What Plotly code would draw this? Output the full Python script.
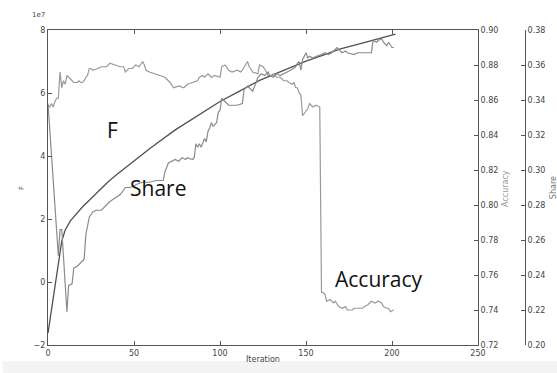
import plotly.graph_objects as go

# ---- data ---------------------------------------------------------------
f_iter = [0, 8, 10, 13, 20, 30, 35, 40, 50, 60, 74, 80, 90, 100, 110, 123,
          130, 140, 150, 160, 170, 180, 190, 200, 202]
f_vals = [-1.62e7, 1.30e7, 1.65e7, 1.94e7, 2.38e7, 2.92e7, 3.18e7, 3.41e7,
          3.85e7, 4.27e7, 4.83e7, 5.04e7, 5.38e7, 5.73e7, 6.02e7, 6.40e7,
          6.56e7, 6.79e7, 7.01e7, 7.20e7, 7.40e7, 7.54e7, 7.69e7, 7.84e7, 7.87e7]

acc_iter = [0, 1, 2, 3, 4, 5, 6, 7, 8, 9, 10, 11, 12, 13, 15, 17, 18, 19, 20,
            21, 22, 23, 24, 25, 26, 29, 31, 34, 36, 39, 42, 44, 45, 47, 49, 51,
            53, 55, 56, 57, 59, 62, 65, 68, 71, 73, 76, 79, 81, 84, 87, 88, 90,
            91, 93, 95, 97, 100, 101, 103, 105, 107, 110, 112, 113, 116, 117,
            119, 122, 123, 125, 127, 128, 130, 131, 133, 135, 137, 139, 140,
            142, 143, 144, 145, 146, 147, 148, 151, 152, 154, 156, 158, 159,
            160, 161, 162, 164, 166, 167, 169, 171, 173, 174, 177, 178, 180,
            183, 184, 186, 188, 190, 192, 194, 195, 197, 198, 199, 201]
acc_vals = [0.857, 0.856, 0.858, 0.856, 0.859, 0.861, 0.861, 0.876, 0.867,
            0.871, 0.869, 0.874, 0.873, 0.872, 0.870, 0.870, 0.871, 0.870,
            0.870, 0.871, 0.873, 0.874, 0.878, 0.878, 0.877, 0.878, 0.879,
            0.879, 0.881, 0.880, 0.879, 0.879, 0.876, 0.878, 0.878, 0.880,
            0.879, 0.882, 0.880, 0.877, 0.876, 0.875, 0.874, 0.873, 0.870,
            0.867, 0.868, 0.867, 0.869, 0.870, 0.871, 0.873, 0.874, 0.873,
            0.875, 0.873, 0.874, 0.873, 0.879, 0.880, 0.877, 0.876, 0.877,
            0.876, 0.877, 0.882, 0.879, 0.876, 0.875, 0.880, 0.879, 0.876,
            0.874, 0.874, 0.875, 0.873, 0.873, 0.871, 0.871, 0.870, 0.869,
            0.870, 0.867, 0.867, 0.864, 0.863, 0.851, 0.855, 0.858, 0.856,
            0.857, 0.856, 0.750, 0.750, 0.749, 0.745, 0.746, 0.744, 0.745,
            0.742, 0.741, 0.742, 0.740, 0.740, 0.741, 0.741, 0.741, 0.742,
            0.743, 0.745, 0.744, 0.745, 0.744, 0.742, 0.741, 0.741, 0.739,
            0.740]

share_iter = [0, 6, 7, 8, 11, 12, 14, 15, 17, 19, 21, 22, 24, 26, 28, 31, 33,
              36, 39, 42, 45, 48, 52, 55, 59, 63, 67, 68, 70, 72, 74, 76, 78,
              80, 81, 84, 85, 86, 87, 88, 89, 91, 92, 93, 94, 95, 96, 98, 99,
              100, 101, 103, 105, 107, 110, 113, 114, 116, 117, 119, 121, 122,
              124, 126, 128, 129, 131, 133, 135, 137, 139, 141, 144, 145, 146,
              147, 148, 149, 150, 151, 152, 154, 156, 159, 161, 163, 165, 168,
              171, 173, 174, 178, 180, 184, 188, 189, 191, 192, 194, 195, 197,
              198, 200, 201]
share_vals = [0.338, 0.251, 0.266, 0.266, 0.219, 0.234, 0.235, 0.244, 0.245,
              0.247, 0.249, 0.263, 0.273, 0.276, 0.277, 0.277, 0.279, 0.282,
              0.284, 0.286, 0.290, 0.290, 0.292, 0.293, 0.293, 0.294, 0.294,
              0.299, 0.304, 0.305, 0.306, 0.305, 0.307, 0.306, 0.307, 0.306,
              0.307, 0.315, 0.313, 0.315, 0.313, 0.318, 0.316, 0.322, 0.324,
              0.327, 0.325, 0.327, 0.333, 0.334, 0.341, 0.339, 0.337, 0.337,
              0.337, 0.338, 0.346, 0.348, 0.347, 0.345, 0.350, 0.353, 0.355,
              0.354, 0.356, 0.354, 0.353, 0.355, 0.354, 0.355, 0.356, 0.357,
              0.359, 0.361, 0.362, 0.357, 0.363, 0.365, 0.367, 0.364, 0.365,
              0.364, 0.365, 0.366, 0.367, 0.366, 0.367, 0.370, 0.367, 0.368,
              0.367, 0.366, 0.367, 0.367, 0.367, 0.374, 0.373, 0.374, 0.375,
              0.373, 0.371, 0.373, 0.370, 0.370]

x_ticks = [0, 50, 100, 150, 200, 250]
f_ticks = [-2e7, 0, 2e7, 4e7, 6e7, 8e7]
f_tick_text = ["\u22122", "0", "2", "4", "6", "8"]

# ---- styling ------------------------------------------------------------
TICK_FONT = dict(family="DejaVu Sans", size=8, color="#444444")
AXIS_LINE = "#555555"
X_END = 0.8566          # right edge of the plotting area (paper fraction)
SHARE_POS = 0.9502      # position of the detached Share spine

fig = go.Figure()
fig.add_trace(go.Scatter(x=f_iter, y=f_vals, mode="lines", name="F",
                         line=dict(color="#505050", width=1.3), yaxis="y"))
fig.add_trace(go.Scatter(x=acc_iter, y=acc_vals, mode="lines", name="Accuracy",
                         line=dict(color="#999999", width=1.2), yaxis="y2"))
fig.add_trace(go.Scatter(x=share_iter, y=share_vals, mode="lines", name="Share",
                         line=dict(color="#8a8a8a", width=1.2), yaxis="y3"))

common = dict(showgrid=False, zeroline=False, showline=True, linecolor=AXIS_LINE,
              linewidth=1, ticks="inside", ticklen=4, tickcolor=AXIS_LINE,
              tickfont=TICK_FONT, automargin=False)

fig.update_layout(
    template="none",
    width=557, height=373,
    margin=dict(l=48, r=7, t=30, b=28),
    paper_bgcolor="white", plot_bgcolor="white",
    showlegend=False,
    xaxis=dict(domain=[0, X_END], range=[0, 250], tickvals=x_ticks,
               mirror="ticks", **common),
    yaxis=dict(range=[-2e7, 8e7], tickvals=f_ticks, ticktext=f_tick_text,
               **common),
    yaxis2=dict(overlaying="y", side="right", anchor="x", range=[0.72, 0.90],
                dtick=0.02, tickformat=".2f", **common),
    yaxis3=dict(overlaying="y", side="right", anchor="free", position=SHARE_POS,
                range=[0.20, 0.38], dtick=0.02, tickformat=".2f", **common),
)

# light strip along the bottom edge
fig.add_shape(type="rect", xref="paper", yref="paper", x0=-0.09, x1=1.02,
              y0=-0.0508, y1=-0.1, fillcolor="#f4f4f4", line=dict(width=0),
              layer="below")


def label(text, x, y, font, angle=0):
    fig.add_annotation(text=text, xref="paper", yref="paper", x=x, y=y,
                       xanchor="center", yanchor="middle", showarrow=False,
                       textangle=angle, font=font)


# axis titles and offset label
label("Iteration", X_END / 2, -0.047,
      dict(family="DejaVu Sans", size=8, color="#444444"))
label("F", -0.052, 0.498, dict(family="DejaVu Sans", size=7, color="#444444"), -90)
label("Accuracy", 0.910, 0.498,
      dict(family="DejaVu Sans", size=8, color="#999999"), -90)
label("Share", 1.006, 0.498,
      dict(family="DejaVu Sans", size=8, color="#777777"), -90)
label("1e7", -0.018, 1.048, dict(family="DejaVu Sans", size=7, color="#444444"))

# large series labels inside the plot
big = dict(family="Open Sans", size=21, color="#111111")
label("F", 0.1275, 0.6825, big)
label("Share", 0.219, 0.50, big)
label("Accuracy", 0.659, 0.208, big)

fig.write_html("out.html")
